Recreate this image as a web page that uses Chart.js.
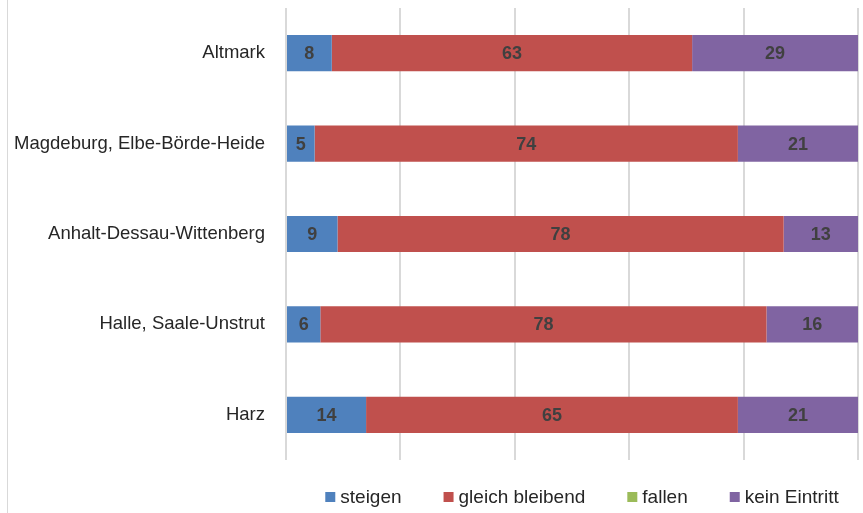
<!DOCTYPE html>
<html>
<head>
<meta charset="utf-8">
<script src="https://cdn.jsdelivr.net/npm/chart.js@4/dist/chart.umd.min.js"></script>
<style>
    html, body { margin: 0; padding: 0; background: #fff; }
    #wrap { position: relative; width: 863px; height: 513px; }
    #frame { position: absolute; left: 7px; top: 0; width: 0; height: 513px; border-left: 1px solid #d9d9d9; }
</style>
</head>
<body>
<div id="wrap">
    <div id="frame"></div>
    <canvas id="regionChart" width="863" height="513"></canvas>
</div>
<script>
const regionen = ['Altmark', 'Magdeburg, Elbe-Börde-Heide', 'Anhalt-Dessau-Wittenberg', 'Halle, Saale-Unstrut', 'Harz'];
const steigen = [8, 5, 9, 6, 14];
const gleichBleibend = [63, 74, 78, 78, 65];
const fallen = [0, 0, 0, 0, 0];
const keinEintritt = [29, 21, 13, 16, 21];
const xTicks = [0, 20, 40, 60, 80, 100];

const fontFamily = "'Liberation Sans Narrow', 'Arial Narrow', 'Liberation Sans', Arial, sans-serif";

// draws the numbers in the middle of each segment
const segmentLabels = {
    id: 'segmentLabels',
    afterDatasetsDraw(chart) {
        const ctx = chart.ctx;
        ctx.save();
        ctx.font = 'bold 18px ' + fontFamily;
        ctx.fillStyle = '#404040';
        ctx.textAlign = 'center';
        ctx.textBaseline = 'middle';
        chart.data.datasets.forEach(function (ds, i) {
            const meta = chart.getDatasetMeta(i);
            meta.data.forEach(function (bar, j) {
                const v = ds.data[j];
                if (!v) return;
                const cx = (bar.x + bar.base) / 2;
                ctx.fillText(String(v), cx, bar.y + 1);
            });
        });
        ctx.restore();
    }
};

// legend under the plot (spacing like the original)
const bottomLegend = {
    id: 'bottomLegend',
    afterDraw(chart) {
        const ctx = chart.ctx;
        const area = chart.chartArea;
        const box = 10, gapText = 5, gapItem = 42;
        ctx.save();
        ctx.font = '19px ' + fontFamily;
        ctx.textBaseline = 'middle';
        const items = chart.data.datasets.map(function (ds) {
            return { text: ds.label, color: ds.backgroundColor, w: box + gapText + ctx.measureText(ds.label).width };
        });
        const total = items.reduce(function (s, it) { return s + it.w; }, 0) + gapItem * (items.length - 1);
        let x = (area.left + area.right) / 2 + 10 - total / 2;
        const y = 497;
        items.forEach(function (it) {
            ctx.fillStyle = it.color;
            ctx.fillRect(x, y - box / 2, box, box);
            ctx.fillStyle = '#262626';
            ctx.fillText(it.text, x + box + gapText, y + 1);
            x += it.w + gapItem;
        });
        ctx.restore();
    }
};

document.addEventListener('DOMContentLoaded', function () {
    const ctx = document.getElementById('regionChart').getContext('2d');
    new Chart(ctx, {
        type: 'bar',
        data: {
            labels: regionen,
            datasets: [
                { label: 'steigen', data: steigen, backgroundColor: '#4F81BD' },
                { label: 'gleich bleibend', data: gleichBleibend, backgroundColor: '#C0504D' },
                { label: 'fallen', data: fallen, backgroundColor: '#9BBB59' },
                { label: 'kein Eintritt', data: keinEintritt, backgroundColor: '#8064A2' }
            ]
        },
        options: {
            indexAxis: 'y',
            responsive: false,
            animation: false,
            layout: { padding: { left: 0, right: 5, top: 8, bottom: 53 } },
            datasets: { bar: { categoryPercentage: 0.4, barPercentage: 1.0 } },
            plugins: {
                tooltip: { enabled: false },
                legend: { display: false }
            },
            scales: {
                x: {
                    stacked: true,
                    min: 0,
                    max: 100,
                    afterBuildTicks: function (scale) {
                        scale.ticks = xTicks.map(function (v) { return { value: v }; });
                    },
                    ticks: { display: false },
                    grid: { color: '#d9d9d9', lineWidth: 2, drawTicks: false },
                    border: { display: false }
                },
                y: {
                    stacked: true,
                    afterFit: function (scale) {
                        scale.width = 286;
                        scale.paddingTop = 0;
                        scale.paddingBottom = 0;
                    },
                    ticks: {
                        padding: 21,
                        color: '#262626',
                        font: { family: fontFamily, size: 18.5 }
                    },
                    grid: { display: false, drawTicks: false },
                    border: { display: false }
                }
            }
        },
        plugins: [segmentLabels, bottomLegend]
    });
});
</script>
</body>
</html>
